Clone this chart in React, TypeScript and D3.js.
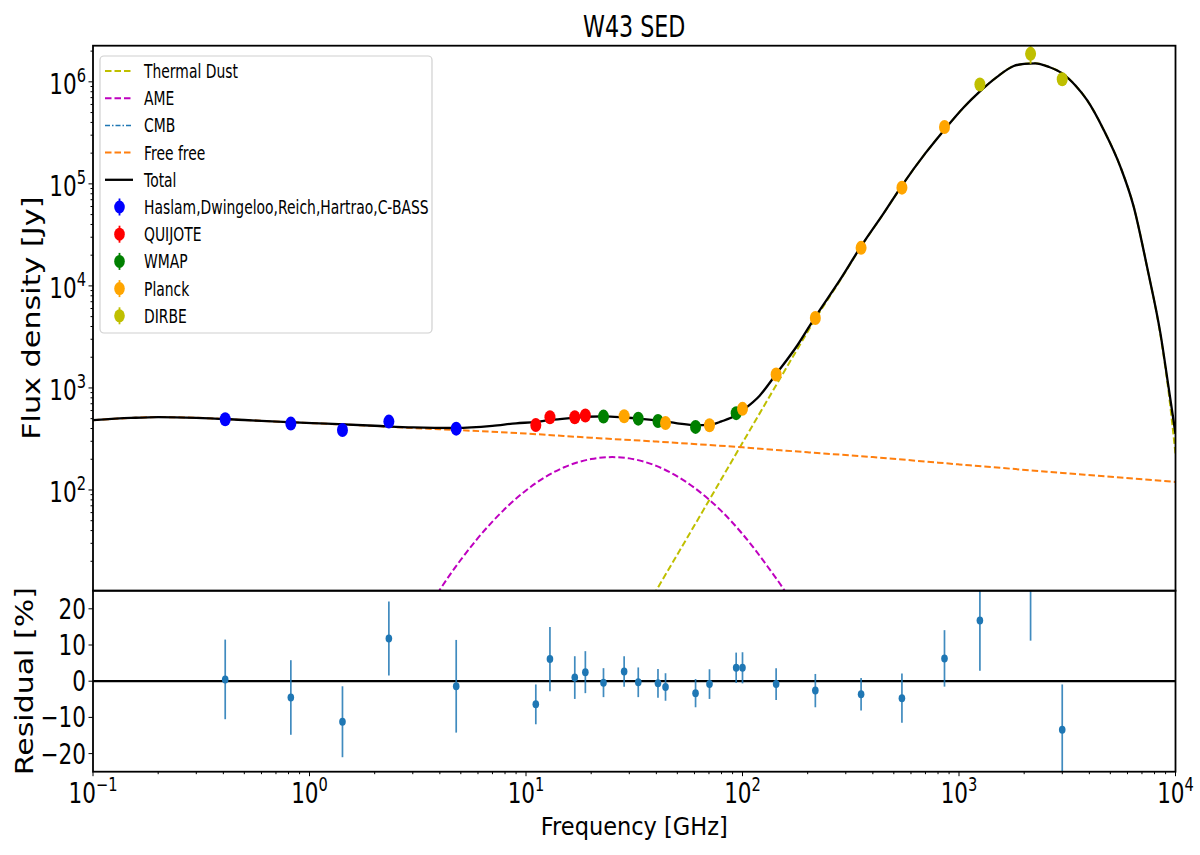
import { useEffect, useRef } from 'react'
import * as d3 from 'd3'

// measured points: frequency [GHz], flux density [Jy], residual [%], residual error [%]
const haslamFreq = [0.408, 0.82, 1.42, 2.326, 4.76]
const haslamFlux = [493, 447, 387, 468, 399]
const haslamRes = [0.5, -4.5, -11.2, 11.8, -1.4]
const haslamErr = [11, 10.3, 9.8, 10.2, 12.8]

const quijoteFreq = [11.1, 12.9, 16.8, 18.8]
const quijoteFlux = [434, 516, 516, 536]
const quijoteRes = [-6.4, 6.1, 1.0, 2.5]
const quijoteErr = [5.5, 8.9, 5.9, 5.8]

const wmapFreq = [22.8, 33.0, 40.7, 60.7, 93.5]
const wmapFlux = [524, 500, 475, 415, 566]
const wmapRes = [-0.4, -0.3, -0.6, -3.3, 3.7]
const wmapErr = [4.0, 4.1, 4.0, 3.9, 4.2]

const planckFreq = [28.4, 44.1, 70.4, 100, 143, 217, 353, 545, 857]
const planckFlux = [527, 454, 431, 624, 1355, 4850, 23600, 91800, 361000]
const planckRes = [2.7, -1.6, -0.8, 3.7, -0.8, -2.6, -3.6, -4.7, 6.3]
const planckErr = [4.2, 3.8, 4.1, 4.3, 4.4, 4.6, 4.5, 6.8, 7.8]

const dirbeFreq = [1249, 2141, 2998]
const dirbeFlux = [942000, 1880000, 1060000]
const dirbeRes = [16.8, 31, -13.4]
const dirbeErr = [13.9, 19.8, 12.5]

// model curves
const ffFreq = [0.1, 0.15, 0.2, 0.3, 0.5, 0.8, 1.2, 2, 3, 5, 10, 20, 40, 70, 100, 150, 200, 400, 1000, 3000, 10000]
const ffFlux = [483, 508, 518, 510, 485, 462, 446, 424, 405, 385, 357, 325, 298, 276, 262, 245, 234, 210, 178, 147, 120]

const ameFreq = [3.5, 3.94, 5, 7, 10, 15, 20, 25, 30, 40, 60, 80, 100, 130, 160, 180]
const ameFlux = [6.6, 10, 20.7, 49, 99, 167, 201, 210, 204, 172, 105, 62, 37, 18, 9.5, 6]

const dustFreq = [35, 40, 60, 100, 143, 180, 217, 280, 353, 450, 545, 700, 857, 1050, 1249, 1500, 1790, 2000, 2249, 2600, 2998, 3450, 3906, 4667, 5572, 6418, 7396, 8530, 9300, 10000]
const dustFlux = [6.4, 10.4, 45, 290, 1063, 2440, 4750, 11000, 24270, 51800, 96100, 199800, 340000, 560000, 806000, 1120000, 1430000, 1500000, 1520000, 1400000, 1210000, 920000, 661000, 336000, 146000, 59200, 15200, 3240, 900, 225]

const totalFreq = [0.1, 0.15, 0.2, 0.3, 0.5, 0.8, 1.2, 2, 3, 4.76, 7, 9, 11.1, 13, 16, 19, 23, 28.4, 33, 41, 50, 61, 70, 80, 94, 100, 120, 143, 180, 217, 280, 353, 450, 545, 700, 857, 1050, 1249, 1500, 1790, 2000, 2249, 2600, 2998, 3450, 3906, 4667, 5572, 6418, 7396, 8530, 9300, 10000]
const totalFlux = [483, 508, 518, 510, 485, 462, 446, 426, 410, 405, 425, 450, 464, 486, 507, 522, 526, 513, 501, 478, 450, 431, 434, 470, 546, 602, 840, 1366, 2650, 4980, 11200, 24480, 52000, 96300, 200000, 340000, 560000, 806000, 1120000, 1430000, 1500000, 1520000, 1400000, 1210000, 920000, 661000, 336000, 146000, 59200, 15200, 3370, 1000, 355]

const xTicks = [0.1, 1, 10, 100, 1000, 10000]
const xTickExp = ['\u22121', '0', '1', '2', '3', '4']
const yTicks = [100, 1000, 10000, 100000, 1000000]
const yTickExp = ['2', '3', '4', '5', '6']
const resTicks = [-20, -10, 0, 10, 20]

const FONT = 'DejaVu Sans, Verdana, sans-serif'

export default function App() {
  const ref = useRef<SVGSVGElement>(null)

  useEffect(() => {
    if (!ref.current) return
    const svg = d3.select(ref.current)
    svg.selectAll('*').remove()

    const L = 93, R = 1175.5, T1 = 45.7, B1 = 590.7, B2 = 771.7

    const x = d3.scaleLog().domain([0.1, 1e4]).range([L, R])
    const y = d3.scaleLog().domain([10.3, 2.26e6]).range([B1, T1])
    const yr = d3.scaleLinear().domain([-25, 25]).range([B2, B1])

    const surveys = [
      { name: 'Haslam,Dwingeloo,Reich,Hartrao,C-BASS', color: '#0000ff', freq: haslamFreq, flux: haslamFlux, res: haslamRes, err: haslamErr },
      { name: 'QUIJOTE', color: '#ff0000', freq: quijoteFreq, flux: quijoteFlux, res: quijoteRes, err: quijoteErr },
      { name: 'WMAP', color: '#008000', freq: wmapFreq, flux: wmapFlux, res: wmapRes, err: wmapErr },
      { name: 'Planck', color: '#ffa500', freq: planckFreq, flux: planckFlux, res: planckRes, err: planckErr },
      { name: 'DIRBE', color: '#bfbf00', freq: dirbeFreq, flux: dirbeFlux, res: dirbeRes, err: dirbeErr },
    ]

    const curves = [
      { name: 'Thermal Dust', color: '#bfbf00', dash: '6.5,3', width: 2, freq: dustFreq, flux: dustFlux },
      { name: 'AME', color: '#bf00bf', dash: '6.5,3', width: 2, freq: ameFreq, flux: ameFlux },
      { name: 'Free free', color: '#ff7f0e', dash: '6.5,3', width: 2, freq: ffFreq, flux: ffFlux },
      { name: 'Total', color: '#000000', dash: null, width: 2.3, freq: totalFreq, flux: totalFlux },
    ]

    const text = (g: any, tx: number, ty: number, str: string, size: number, sx: number, anchor = 'middle', rot = 0) =>
      g.append('text')
        .attr('transform', `translate(${tx},${ty}) rotate(${rot}) scale(${sx},1)`)
        .attr('text-anchor', anchor)
        .attr('font-family', FONT)
        .attr('font-size', size)
        .attr('fill', '#000')
        .text(str)

    const pow = (g: any, tx: number, ty: number, exp: string, anchor: string) => {
      const t = g.append('text')
        .attr('transform', `translate(${tx},${ty}) scale(0.77,1)`)
        .attr('text-anchor', anchor)
        .attr('font-family', FONT)
        .attr('fill', '#000')
      t.append('tspan').attr('font-size', 28).text('10')
      t.append('tspan').attr('font-size', 19).attr('dy', -12).text(exp)
    }

    const defs = svg.append('defs')
    defs.append('clipPath').attr('id', 'clipTop')
      .append('rect').attr('x', L).attr('y', T1).attr('width', R - L).attr('height', B1 - T1)
    defs.append('clipPath').attr('id', 'clipRes')
      .append('rect').attr('x', L).attr('y', B1).attr('width', R - L).attr('height', B2 - B1)

    // ---- top panel ----
    const top = svg.append('g').attr('clip-path', 'url(#clipTop)')
    const line = d3.line<number>().curve(d3.curveMonotoneX)

    curves.forEach(c => {
      const pts = c.freq.map((f, i) => [x(f), y(c.flux[i])] as [number, number])
      top.append('path')
        .attr('d', d3.line().curve(d3.curveMonotoneX)(pts))
        .attr('fill', 'none')
        .attr('stroke', c.color)
        .attr('stroke-width', c.width)
        .attr('stroke-dasharray', c.dash)
    })
    void line

    surveys.forEach(s => {
      s.freq.forEach((f, i) => {
        const v = s.flux[i]
        const e = v * s.err[i] / 100
        top.append('line')
          .attr('x1', x(f)).attr('x2', x(f))
          .attr('y1', y(v - e)).attr('y2', y(v + e))
          .attr('stroke', s.color).attr('stroke-width', 1.8)
        top.append('ellipse')
          .attr('cx', x(f)).attr('cy', y(v))
          .attr('rx', 5.5).attr('ry', 7)
          .attr('fill', s.color)
      })
    })

    // ---- residual panel ----
    const res = svg.append('g').attr('clip-path', 'url(#clipRes)')
    res.append('line')
      .attr('x1', L).attr('x2', R).attr('y1', yr(0)).attr('y2', yr(0))
      .attr('stroke', '#000').attr('stroke-width', 2.2)
    surveys.forEach(s => {
      s.freq.forEach((f, i) => {
        res.append('line')
          .attr('x1', x(f)).attr('x2', x(f))
          .attr('y1', yr(s.res[i] - s.err[i])).attr('y2', yr(s.res[i] + s.err[i]))
          .attr('stroke', '#1f77b4').attr('stroke-width', 1.7).attr('opacity', 0.85)
        res.append('ellipse')
          .attr('cx', x(f)).attr('cy', yr(s.res[i]))
          .attr('rx', 3.3).attr('ry', 4)
          .attr('fill', '#1f77b4')
      })
    })

    // ---- frames ----
    svg.append('rect').attr('x', L).attr('y', T1).attr('width', R - L).attr('height', B1 - T1)
      .attr('fill', 'none').attr('stroke', '#000').attr('stroke-width', 1.8)
    svg.append('rect').attr('x', L).attr('y', B1).attr('width', R - L).attr('height', B2 - B1)
      .attr('fill', 'none').attr('stroke', '#000').attr('stroke-width', 1.8)

    // ---- ticks ----
    const axes = svg.append('g').attr('stroke', '#000').attr('stroke-width', 1)
    // top y: major + log minor
    for (let d = 10; d <= 1e6; d *= 10) {
      for (let m = 1; m <= 9; m++) {
        const v = d * m
        if (v < 10.3 || v > 2.26e6) continue
        const len = m === 1 ? 4.5 : 2.5
        axes.append('line').attr('x1', L - len).attr('x2', L).attr('y1', y(v)).attr('y2', y(v))
      }
    }
    yTicks.forEach((v, i) => pow(svg, 86, y(v) + 12.3, yTickExp[i], 'end'))

    // residual y
    resTicks.forEach(v => {
      axes.append('line').attr('x1', L - 4.5).attr('x2', L).attr('y1', yr(v)).attr('y2', yr(v))
      text(svg, 86, yr(v) + 10, v < 0 ? `\u2212${-v}` : `${v}`, 28, 0.77, 'end')
    })

    // bottom x: major + log minor
    for (let d = 0.1; d <= 1e4; d *= 10) {
      for (let m = 1; m <= 9; m++) {
        const v = d * m
        if (v > 1.0001e4) continue
        const len = m === 1 ? 4.5 : 2.5
        axes.append('line').attr('x1', x(v)).attr('x2', x(v)).attr('y1', B2).attr('y2', B2 + len)
      }
    }
    xTicks.forEach((v, i) => pow(svg, x(v), 803, xTickExp[i], 'middle'))

    // ---- labels ----
    text(svg, (L + R) / 2, 37.3, 'W43 SED', 30, 0.74)
    text(svg, (L + R) / 2, 835, 'Frequency [GHz]', 25, 0.9)
    text(svg, 39.5, (T1 + B1) / 2, 'Flux density [Jy]', 25, 1.21, 'middle', -90)
    text(svg, 33, (B1 + B2) / 2, 'Residual [%]', 25, 1.2, 'middle', -90)

    // ---- legend ----
    const lg = svg.append('g')
    lg.append('rect').attr('x', 100).attr('y', 56).attr('width', 332).attr('height', 277)
      .attr('rx', 4).attr('fill', '#fff').attr('fill-opacity', 0.8)
      .attr('stroke', '#d0d0d0').attr('stroke-width', 1.2)
    const legendLines = [
      { name: 'Thermal Dust', color: '#bfbf00', dash: '6.5,3', width: 2 },
      { name: 'AME', color: '#bf00bf', dash: '6.5,3', width: 2 },
      { name: 'CMB', color: '#1f77b4', dash: '5,2,1.5,2', width: 1.5 },
      { name: 'Free free', color: '#ff7f0e', dash: '6.5,3', width: 2 },
      { name: 'Total', color: '#000000', dash: null, width: 2.3 },
    ]
    const rowY = (i: number) => 71 + i * 27.2
    legendLines.forEach((c, i) => {
      lg.append('line').attr('x1', 105).attr('x2', 133).attr('y1', rowY(i)).attr('y2', rowY(i))
        .attr('stroke', c.color).attr('stroke-width', c.width).attr('stroke-dasharray', c.dash)
      text(lg, 144, rowY(i) + 7, c.name, 19.6, 0.71, 'start')
    })
    surveys.forEach((s, j) => {
      const i = j + legendLines.length
      lg.append('line').attr('x1', 119.5).attr('x2', 119.5).attr('y1', rowY(i) - 8.5).attr('y2', rowY(i) + 8.5)
        .attr('stroke', s.color).attr('stroke-width', 1.8)
      lg.append('ellipse').attr('cx', 119.5).attr('cy', rowY(i)).attr('rx', 5.3).attr('ry', 6.5).attr('fill', s.color)
      text(lg, 144, rowY(i) + 7, s.name, 19.6, 0.71, 'start')
    })
    void curves
  }, [])

  return (
    <svg
      ref={ref}
      width={1200}
      height={855}
      viewBox="0 0 1200 855"
      style={{ position: 'absolute', left: 0, top: 0, background: '#fff' }}
    />
  )
}
